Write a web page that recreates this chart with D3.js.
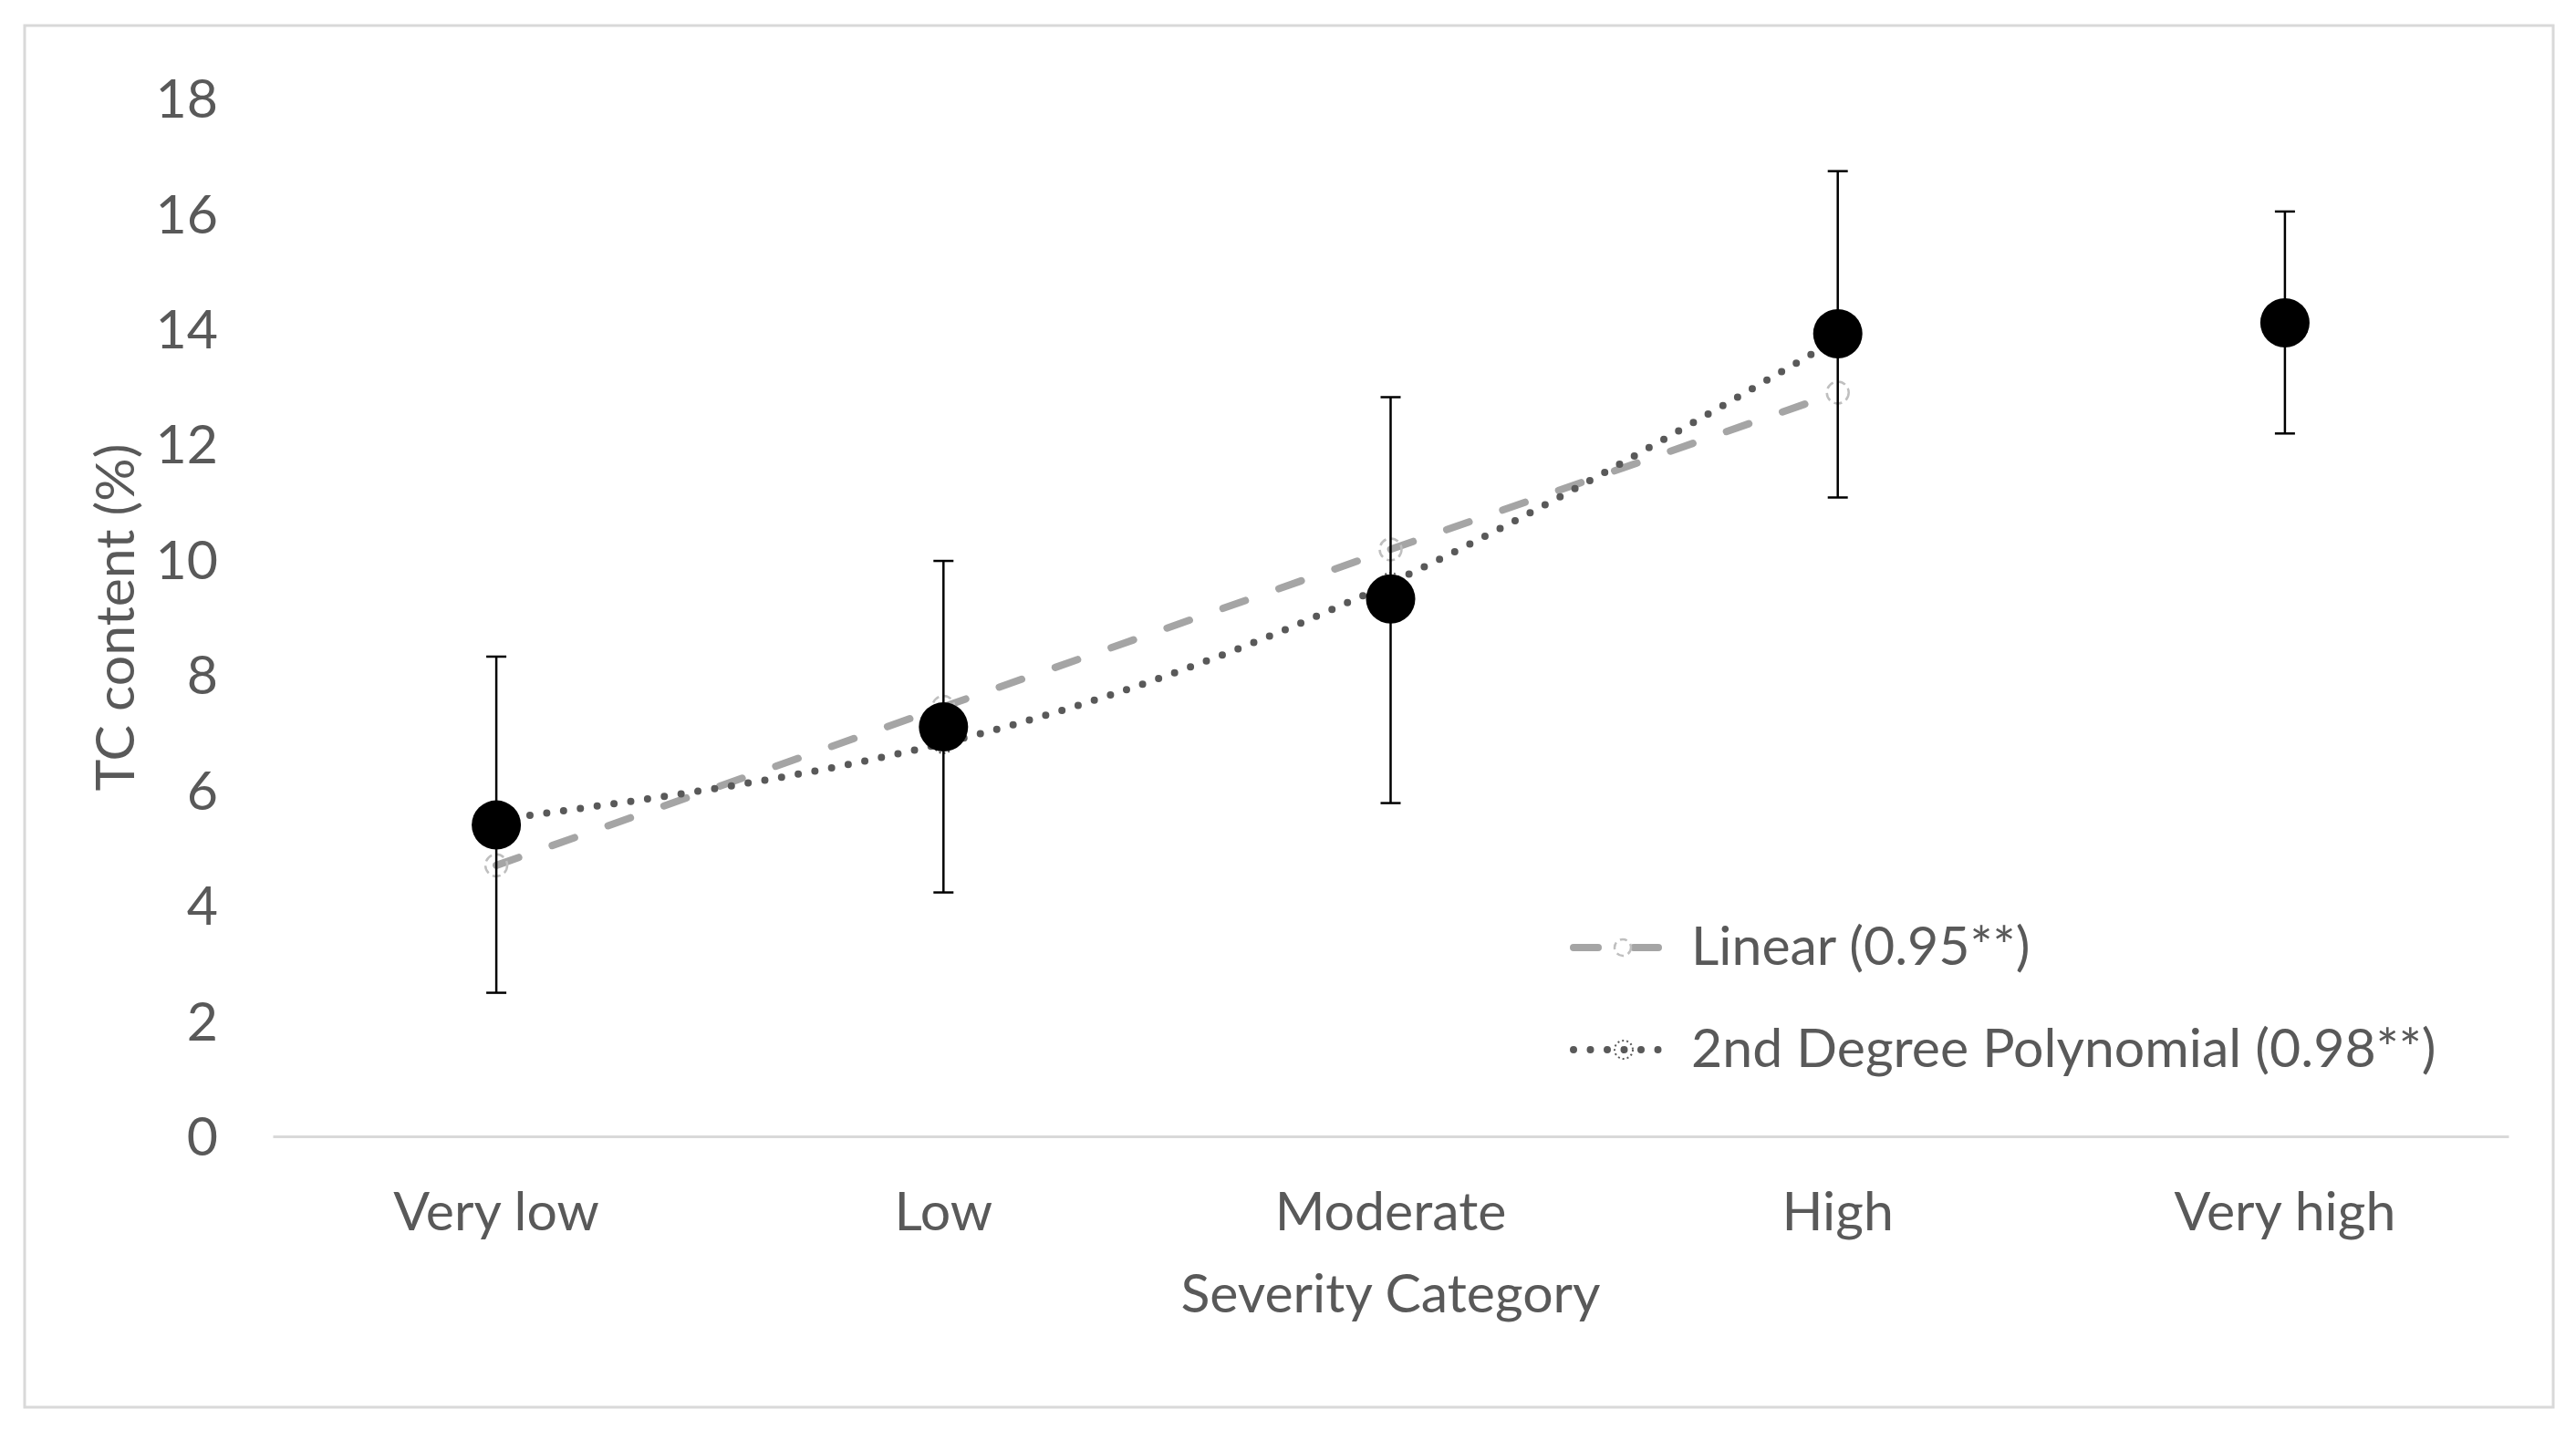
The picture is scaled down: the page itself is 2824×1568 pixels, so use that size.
<!DOCTYPE html>
<html>
<head>
<meta charset="utf-8">
<script src="https://cdn.jsdelivr.net/npm/d3@7"></script>
<style>
  body { margin: 0; background: #fff; }
  text { font-family: Lato, "Open Sans", sans-serif; fill: #595959; }
</style>
</head>
<body>
<script>
// values
var categories = ["Very low", "Low", "Moderate", "High", "Very high"];
var means = [5.4, 7.1, 9.32, 13.92, 14.11];
var errUp = [8.32, 9.98, 12.82, 16.74, 16.04];
var errDown = [2.49, 4.23, 5.78, 11.08, 12.19];
var fitCategories = ["Very low", "Low", "Moderate", "High"];
var linearFit = [4.7, 7.45, 10.18, 12.9];
var polyFit = [5.49, 6.82, 9.6, 13.83];
var yTicks = [0, 2, 4, 6, 8, 10, 12, 14, 16, 18];
var legendLabels = ["Linear (0.95**)", "2nd Degree Polynomial (0.98**)"];

var w = 2824, h = 1568;
var fs = "59px";

var svg = d3.select("body").append("svg")
    .attr("width", w)
    .attr("height", h);

// chart border
svg.append("rect")
    .attr("x", 27)
    .attr("y", 28)
    .attr("width", 2772)
    .attr("height", 1515)
    .attr("fill", "#fff")
    .attr("stroke", "#D9D9D9")
    .attr("stroke-width", 3);

var x = d3.scaleBand().domain(categories).range([299, 2750]);
var y = d3.scaleLinear().domain([0, 18]).range([1246, 108]);
var cx = function(c) { return x(c) + x.bandwidth() / 2; };

// y axis: labels only
var yAxis = svg.append("g")
    .attr("transform", "translate(299,0)")
    .call(d3.axisLeft(y).tickValues(yTicks).tickSize(0).tickPadding(60));
yAxis.select(".domain").remove();
yAxis.selectAll("text")
    .attr("dy", "0.35em")
    .style("font-size", fs)
    .attr("fill", "#595959");

// x axis
var xAxis = svg.append("g")
    .attr("transform", "translate(0," + y(0) + ")")
    .call(d3.axisBottom(x).tickSize(0).tickSizeOuter(0));
xAxis.select(".domain")
    .attr("stroke", "#D9D9D9")
    .attr("stroke-width", 3);
xAxis.selectAll("text")
    .attr("dy", null)
    .attr("y", 103)
    .style("font-size", fs)
    .attr("fill", "#595959");

// axis titles
svg.append("text")
    .attr("transform", "translate(147," + (y(0) + y(18)) / 2 + ")rotate(-90)")
    .attr("text-anchor", "middle")
    .style("font-size", fs)
    .text("TC content (%)");

svg.append("text")
    .attr("x", (299 + 2750) / 2)
    .attr("y", 1439)
    .attr("text-anchor", "middle")
    .style("font-size", fs)
    .text("Severity Category");

// trend lines
var linLine = d3.line()
    .x(function(d, i) { return cx(fitCategories[i]); })
    .y(function(d) { return y(d); });

var polyLine = d3.line()
    .x(function(d, i) { return cx(fitCategories[i]); })
    .y(function(d) { return y(d); })
    .curve(d3.curveNatural);

svg.append("path")
    .attr("d", linLine(linearFit))
    .attr("fill", "none")
    .attr("stroke", "#A5A5A5")
    .attr("stroke-width", 8)
    .attr("stroke-linecap", "round")
    .attr("stroke-dasharray", "26,39");

svg.append("path")
    .attr("d", polyLine(polyFit))
    .attr("fill", "none")
    .attr("stroke", "#595959")
    .attr("stroke-width", 8)
    .attr("stroke-linecap", "round")
    .attr("stroke-dasharray", "0,18.6");

// trend markers
svg.selectAll(".linMark")
    .data(linearFit)
  .enter().append("circle")
    .attr("class", "linMark")
    .attr("cx", function(d, i) { return cx(fitCategories[i]); })
    .attr("cy", function(d) { return y(d); })
    .attr("r", 12)
    .attr("fill", "none")
    .attr("stroke", "#BFBFBF")
    .attr("stroke-width", 2.5)
    .attr("stroke-dasharray", "9,5");

svg.selectAll(".polyMark")
    .data(polyFit)
  .enter().append("circle")
    .attr("class", "polyMark")
    .attr("cx", function(d, i) { return cx(fitCategories[i]); })
    .attr("cy", function(d) { return y(d); })
    .attr("r", 11)
    .attr("fill", "none")
    .attr("stroke", "#595959")
    .attr("stroke-width", 2)
    .attr("stroke-dasharray", "2,3");

// error bars
var bars = svg.selectAll(".err")
    .data(categories)
  .enter().append("g")
    .attr("class", "err")
    .attr("stroke", "#000")
    .attr("stroke-width", 2.5);

bars.append("line")
    .attr("x1", cx).attr("x2", cx)
    .attr("y1", function(d, i) { return y(errUp[i]); })
    .attr("y2", function(d, i) { return y(errDown[i]); });

bars.append("line")
    .attr("x1", function(d) { return cx(d) - 11; })
    .attr("x2", function(d) { return cx(d) + 11; })
    .attr("y1", function(d, i) { return y(errUp[i]); })
    .attr("y2", function(d, i) { return y(errUp[i]); });

bars.append("line")
    .attr("x1", function(d) { return cx(d) - 11; })
    .attr("x2", function(d) { return cx(d) + 11; })
    .attr("y1", function(d, i) { return y(errDown[i]); })
    .attr("y2", function(d, i) { return y(errDown[i]); });

// mean points
svg.selectAll(".pt")
    .data(means)
  .enter().append("circle")
    .attr("class", "pt")
    .attr("cx", function(d, i) { return cx(categories[i]); })
    .attr("cy", function(d) { return y(d); })
    .attr("r", 27)
    .attr("fill", "#000");

// legend
var legend = svg.append("g");

legend.append("line")
    .attr("x1", 1725).attr("x2", 1818)
    .attr("y1", 1039).attr("y2", 1039)
    .attr("stroke", "#A5A5A5")
    .attr("stroke-width", 8)
    .attr("stroke-linecap", "round")
    .attr("stroke-dasharray", "27,39");

legend.append("circle")
    .attr("cx", 1779).attr("cy", 1039).attr("r", 9)
    .attr("fill", "none")
    .attr("stroke", "#BFBFBF")
    .attr("stroke-width", 2.5)
    .attr("stroke-dasharray", "8,5");

legend.append("line")
    .attr("x1", 1725).attr("x2", 1836)
    .attr("y1", 1151).attr("y2", 1151)
    .attr("stroke", "#595959")
    .attr("stroke-width", 8)
    .attr("stroke-linecap", "round")
    .attr("stroke-dasharray", "0,18.5");

legend.append("circle")
    .attr("cx", 1780).attr("cy", 1151).attr("r", 10)
    .attr("fill", "none")
    .attr("stroke", "#595959")
    .attr("stroke-width", 2)
    .attr("stroke-dasharray", "2,3");

legend.selectAll("text")
    .data(legendLabels)
  .enter().append("text")
    .attr("x", 1854)
    .attr("y", function(d, i) { return i ? 1170 : 1058; })
    .style("font-size", fs)
    .text(function(d) { return d; });
</script>
</body>
</html>
